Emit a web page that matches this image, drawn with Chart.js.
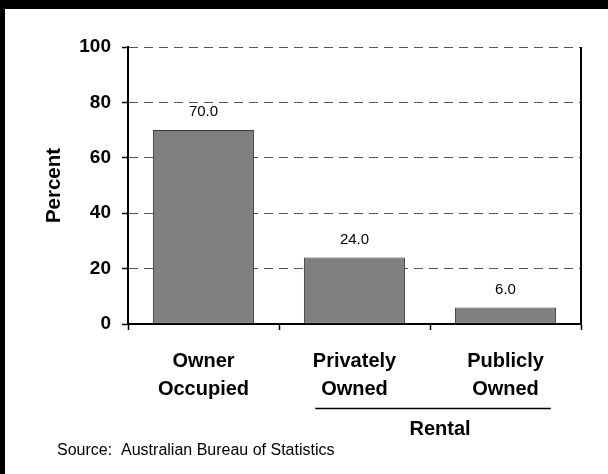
<!DOCTYPE html>
<html>
<head>
<meta charset="utf-8">
<script src="https://cdn.jsdelivr.net/npm/chart.js@4.4.0/dist/chart.umd.min.js"></script>
<style>
    html, body {
        margin: 0;
        padding: 0;
        background: #fff;
        overflow: hidden;
        width: 100%;
        height: 100%;
    }
    #frame {
        position: absolute;
        left: 0;
        top: 0;
        right: 0;
        bottom: 0;
        box-sizing: border-box;
        border-top: 9px solid #000;
        border-left: 5px solid #000;
        background: #fff;
    }
    #wrap { position: relative; width: 100%; height: 100%; }
</style>
</head>
<body>
<div id="frame"><div id="wrap"><canvas id="myChart"></canvas></div></div>
<script>
// Housing tenure shares
const categories = [['Owner', 'Occupied'], ['Privately', 'Owned'], ['Publicly', 'Owned']];
const percent = [70.0, 24.0, 6.0];
const yTicks = [0, 20, 40, 60, 80, 100];
const groupLabel = 'Rental';
const groupMembers = [1, 2];
const sourceNote = 'Source:  Australian Bureau of Statistics';

const FONT = '"Liberation Sans", Arial, sans-serif';
const ctx = document.getElementById('myChart');

// Draws the right frame edge, bar value labels, the rental bracket and the source line
const extras = {
    id: 'extras',
    afterDraw(chart) {
        const { ctx, chartArea, scales: { x } } = chart;
        ctx.save();

        ctx.strokeStyle = '#000';
        ctx.lineWidth = 2;
        ctx.beginPath();
        ctx.moveTo(chartArea.right, chartArea.top);
        ctx.lineTo(chartArea.right, chartArea.bottom);
        ctx.stroke();

        ctx.fillStyle = '#000';
        ctx.textAlign = 'center';
        ctx.textBaseline = 'middle';
        ctx.font = '15px ' + FONT;
        chart.getDatasetMeta(0).data.forEach((bar, i) => {
            ctx.fillText(percent[i].toFixed(1), bar.x, bar.y - 18);
        });

        // bracket under the two rental categories
        const w = x.getPixelForValue(1) - x.getPixelForValue(0);
        const left = x.getPixelForValue(groupMembers[0]) - 0.26 * w;
        const right = x.getPixelForValue(groupMembers[1]) + 0.3 * w;
        const lineY = Math.round(chartArea.bottom + 84) + 0.5;
        ctx.lineWidth = 1.5;
        ctx.beginPath();
        ctx.moveTo(left, lineY);
        ctx.lineTo(right, lineY);
        ctx.stroke();
        ctx.font = 'bold 20px ' + FONT;
        ctx.fillText(groupLabel, (left + right) / 2 + 7, chartArea.bottom + 105);

        ctx.textAlign = 'left';
        ctx.font = '16px ' + FONT;
        ctx.fillText(sourceNote, 52, chartArea.bottom + 127);
        ctx.restore();
    }
};

new Chart(ctx, {
    type: 'bar',
    data: {
        labels: categories,
        datasets: [{
            data: percent,
            backgroundColor: '#808080',
            borderColor: '#383838',
            borderWidth: 1,
            borderSkipped: false,
            categoryPercentage: 1,
            barPercentage: 0.67
        }]
    },
    options: {
        responsive: true,
        maintainAspectRatio: false,
        animation: false,
        layout: {
            padding: { top: 38, right: 27, left: 0, bottom: 0 }
        },
        plugins: {
            legend: { display: false },
            tooltip: { enabled: false }
        },
        scales: {
            x: {
                afterFit: scale => { scale.height = 150; },
                grid: {
                    drawOnChartArea: false,
                    tickLength: 6,
                    tickColor: '#000',
                    tickWidth: 1.5
                },
                border: { color: '#000', width: 2 },
                ticks: {
                    color: '#000',
                    padding: 17,
                    font: { family: FONT, size: 20, weight: 'bold', lineHeight: 1.4 }
                }
            },
            y: {
                min: 0,
                max: 100,
                afterFit: scale => { scale.width = 123; },
                afterBuildTicks: scale => { scale.ticks = yTicks.map(v => ({ value: v })); },
                grid: {
                    color: '#555',
                    lineWidth: 1,
                    borderDash: [9, 6],
                    tickLength: 6,
                    tickColor: '#000',
                    tickWidth: 1.5,
                    tickBorderDash: []
                },
                border: { color: '#000', width: 2, dash: [9, 6] },
                ticks: {
                    color: '#000',
                    padding: 11,
                    font: { family: FONT, size: 19, weight: 'bold' }
                },
                title: {
                    display: true,
                    text: 'Percent',
                    color: '#000',
                    padding: { top: 37, bottom: 0 },
                    font: { family: FONT, size: 20.5, weight: 'bold', lineHeight: 1.2 }
                }
            }
        }
    },
    plugins: [extras]
});
</script>
</body>
</html>
